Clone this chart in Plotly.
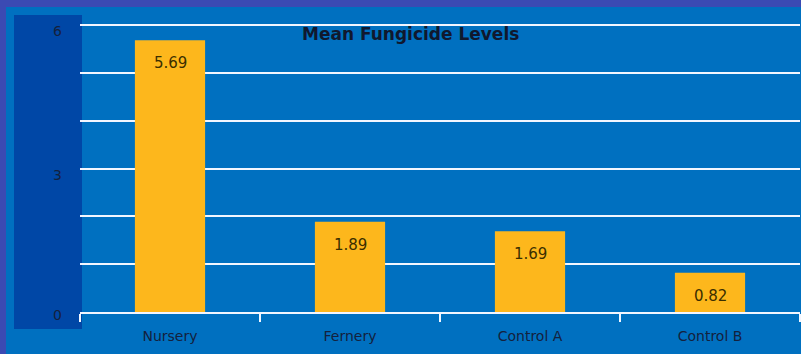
import plotly.graph_objects as go

categories = ["Nursery", "Fernery", "Control A", "Control B"]
values = [5.69, 1.89, 1.69, 0.82]
value_labels = ["5.69", "1.89", "1.69", "0.82"]
y_tick_vals = [0, 3, 6]
y_tick_text = ["0", "3", "6"]
title_text = "Mean Fungicide Levels"

W, H = 801, 354
T, B, L, R = 23, 42, 80, 1
PH = H - T - B
PW = W - L - R
FONT = "DejaVu Sans, Open Sans, sans-serif"
fig = go.Figure()
fig.add_trace(go.Bar(
    x=categories, y=values,
    marker=dict(color="#fdb71c", line=dict(width=0)),
    width=0.39,
))

annotations = [dict(text="<b>" + title_text + "</b>", xref="paper", yref="paper",
                    x=(410 - L) / PW, y=(H - B - 34) / PH, xanchor="center", yanchor="middle",
                    showarrow=False, font=dict(family=FONT, size=17, color="#10182e"))]
for c, v, t in zip(categories, values, value_labels):
    annotations.append(dict(x=c, y=v, text=t, showarrow=False, yshift=-23,
                            xanchor="center", yanchor="middle",
                            font=dict(family=FONT, size=15, color="#3a2e00")))
for v, t in zip(y_tick_vals, y_tick_text):
    annotations.append(dict(xref="paper", x=-(80 - 57) / PW, y=v, yref="y", text=t,
                            showarrow=False, xanchor="center", yanchor="middle",
                            yshift=-6 if v > 0 else -3,
                            font=dict(family=FONT, size=14, color="#14213d")))

fig.update_layout(
    width=W, height=H,
    margin=dict(l=L, r=R, t=T, b=B),
    paper_bgcolor="#3b4ab3",
    plot_bgcolor="rgba(0,0,0,0)",
    showlegend=False,
    font=dict(family=FONT, color="#14213d"),
    shapes=[
        dict(type="rect", xref="paper", yref="paper", layer="below",
             x0=-74/PW, x1=1 + 1/PW, y0=-B/PH, y1=(H - B - 7) / PH,
             fillcolor="#0070c0", line=dict(width=0)),
        dict(type="rect", xref="paper", yref="paper", layer="below",
             x0=-66/PW, x1=2/PW, y0=-17/PH, y1=(H - B - 15) / PH,
             fillcolor="#0047a6", line=dict(width=0)),
    ],
    annotations=annotations,
)
fig.update_yaxes(range=[0, 6.05], tickmode="array",
                 tickvals=y_tick_vals, ticktext=y_tick_text, showticklabels=False,
                 showgrid=True, gridcolor="#f2f6ff", gridwidth=2,
                 zeroline=False, ticks="")
fig.update_yaxes(minor=dict(dtick=1, showgrid=True, gridcolor="#f2f6ff", gridwidth=2))
fig.update_xaxes(showline=True, linecolor="#f2f6ff", linewidth=2,
                 ticks="outside", tickson="boundaries", ticklen=8,
                 tickcolor="#f2f6ff", tickwidth=2, showgrid=False,
                 ticklabelstandoff=10,
                 tickfont=dict(size=14, color="#14213d"))

fig.write_html("out.html", config={"displayModeBar": False},
               post_script="document.body.style.margin='0';document.body.style.overflow='hidden';")
